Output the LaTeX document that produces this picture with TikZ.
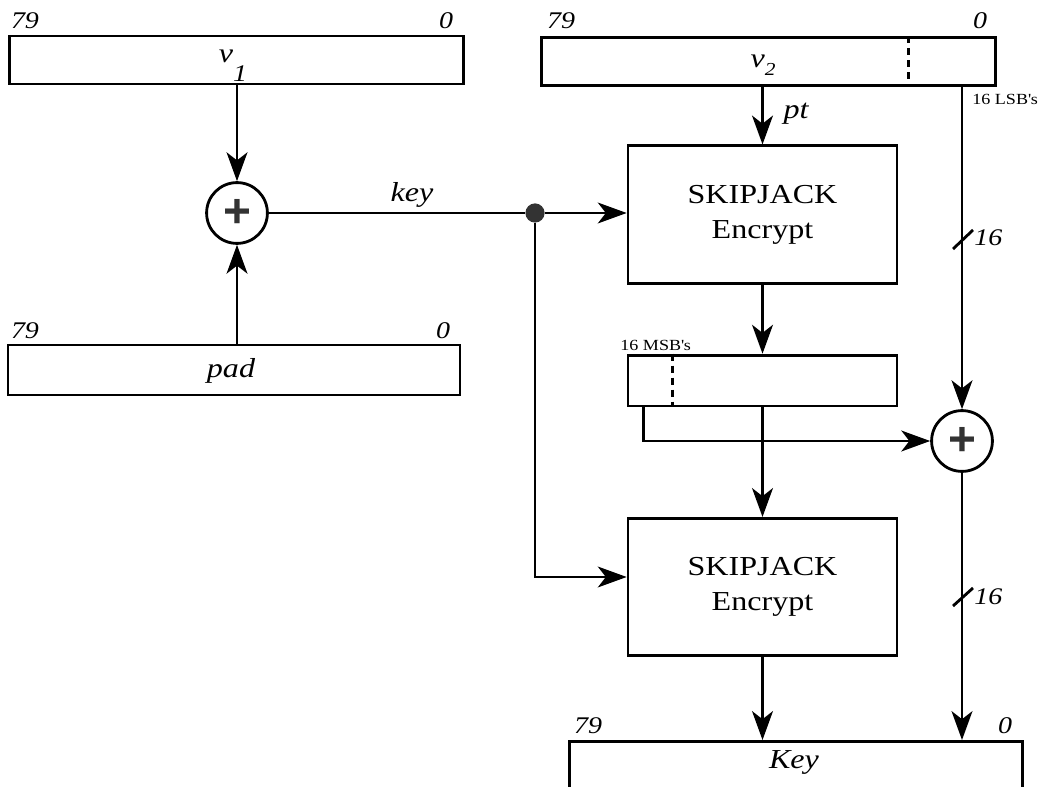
\documentclass[tikz,border=0pt]{standalone}
\usepackage{fontspec}
\setmainfont{Liberation Serif}[FakeStretch=1.17]
\newfontfamily\plusfont{Liberation Sans}
\usetikzlibrary{arrows.meta,positioning,calc}

\tikzset{
  wire/.style={line width=2pt},
  flow/.style={wire, -{Stealth[length=0.72cm, width=0.52cm, inset=0.2cm]}},
  regbox/.style={draw, line width=2pt, minimum width=11.33cm, minimum height=1.2cm, inner sep=0pt},
  cipherbox/.style={draw, line width=2pt, minimum width=6.72cm, minimum height=3.43cm,
    align=center, font=\fontsize{19.5}{25}\selectfont},
  xorgate/.style={draw, circle, line width=2pt, minimum size=1.52cm, inner sep=0pt,
    font=\plusfont\bfseries\fontsize{34}{34}\selectfont, text=black!80},
  lsbsplit/.style={line width=2pt, dash pattern=on 0.18cm off 0.12cm},
  bitlbl/.style={anchor=base, inner sep=0pt, font=\fontsize{17}{17}\selectfont\itshape},
  varlbl/.style={anchor=base, inner sep=0pt, font=\fontsize{19.5}{20}\selectfont\itshape},
  smalllbl/.style={anchor=base west, inner sep=0pt, font=\fontsize{11}{11}\selectfont}
}

\begin{document}
\begin{tikzpicture}[x=0.025cm, y=-0.025cm]
\useasboundingbox (0,0) rectangle (1045,787);

% registers
\node[regbox] (v1) at (236.5,60) {};
\node[regbox] (v2) at (768.5,61.5) {};
\node[regbox, minimum width=11.3cm, minimum height=1.25cm] (pad) at (234,370) {};
\node[regbox, minimum width=6.72cm, minimum height=1.27cm] (ctreg) at (762.5,380.5) {};
\node[regbox, minimum height=2.5cm, anchor=north] (keyreg) at (796,740) {};

% xor gates and ciphers
\node[xorgate] (xor1) at (237,213) {+};
\node[xorgate] (xor2) at (962,441) {+};
\node[cipherbox] (sk1) at (762.5,214.5) {SKIPJACK\\Encrypt};
\node[cipherbox] (sk2) at (762.5,587) {SKIPJACK\\Encrypt};
\node[circle, fill=black!80, minimum size=0.48cm, inner sep=0pt] (tap) at (535,213) {};

% field split marks
\draw[lsbsplit] ([xshift=-2.2cm]v2.north east) -- ([xshift=-2.2cm]v2.south east);
\draw[lsbsplit] ([xshift=1.15cm]ctreg.north west) -- ([xshift=1.15cm]ctreg.south west);

% register contents
\node[varlbl] (v1txt) at (233,63) {v\raisebox{-0.68em}{\fontsize{17}{17}\selectfont 1}};
\node[varlbl] (v2txt) at (763,68) {v\raisebox{-0.18cm}{\fontsize{13}{13}\selectfont 2}};
\node[varlbl] (padtxt) at (231,377) {pad};
\node[varlbl] (keytxt) at (412,202) {key};
\node[varlbl] (pttxt) at (796,119) {pt};
\node[varlbl] (Keytxt) at (794,768) {Key};

% bit numbers
\node[bitlbl] (v1hi) at (25,29) {79};
\node[bitlbl] (v1lo) at (446,29) {0};
\node[bitlbl] (v2hi) at (561,29) {79};
\node[bitlbl] (v2lo) at (980,29) {0};
\node[bitlbl] (padhi) at (25,339) {79};
\node[bitlbl] (padlo) at (443,339) {0};
\node[bitlbl] (keyhi) at (588,733) {79};
\node[bitlbl] (keylo) at (1005,733) {0};

\node[smalllbl] (lsb) at (972,105) {16 LSB\textquotesingle s};
\node[smalllbl] (msb) at (620,350) {16 MSB\textquotesingle s};
\node[bitlbl, anchor=base west] (w1) at (974,246) {16};
\node[bitlbl, anchor=base west] (w2) at (974,604) {16};

% data flow
\draw[flow] (v1.south -| xor1.north) -- (xor1.north);
\draw[flow] (pad.north -| xor1.south) -- (xor1.south);
\draw[wire] (xor1.east) -- (tap);
\draw[flow] (tap) -- (tap -| sk1.west);
\draw[flow] (tap) |- ([yshift=0.25cm]sk2.west);
\draw[flow] (v2.south -| sk1.north) -- (sk1.north);
\draw[flow] (sk1.south) -- (ctreg.north);
\draw[flow] (ctreg.south) -- (sk2.north);
\draw[flow] ([xshift=0.42cm]ctreg.south west) |- (xor2.west);
\draw[flow] (v2.south -| xor2.north) -- (xor2.north);
\draw[flow] (xor2.south) -- (xor2.south |- keyreg.north);
\draw[flow] (sk2.south) -- (sk2.south |- keyreg.north);

% width marks
\draw[wire] (953,249) -- (973,230);
\draw[wire] (953,606) -- (973,588);

\end{tikzpicture}
\end{document}
